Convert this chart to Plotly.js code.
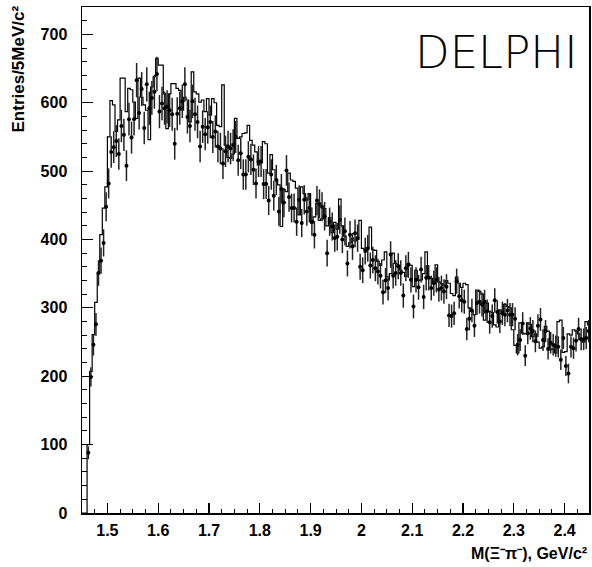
<!DOCTYPE html>
<html><head><meta charset="utf-8">
<script src="https://cdn.plot.ly/plotly-3.0.1.min.js"></script>
<style>html,body{margin:0;padding:0;background:#fff}#chart{width:592px;height:567px}</style>
</head><body><div id="chart"></div>
<script>
// Histogram binning: 5 MeV bins starting at 1.45 GeV
const binLow = 1.45;
const binWidth = 0.005;

// Data points (entries per bin), first two bins below threshold
const dataCounts = [null, null,
  88,199,246,276,351,369,395,448,482,528, 535,544,525,566,553,508,576,549,576,633,
  585,620,563,627,592,607,616,642,587,599, 592,594,589,583,540,584,592,602,627,579,
  566,602,583,572,536,565,554,564,
  572,550,558,536,533,511,529,536,533,538, 550,516,526,495,495,521,517,502,482,514,
  514,481,481,457,495,464,487,441,474,454, 501,462,446,446,426,458,424,458,441,446,
  426,407,457,452,448,434,380,426,419,402,
  404,429,400,412,365,407,390,409,402,360, 355,383,387,362,370,358,353,347,323,340,
  329,378,347,351,361,351,318,358,363,341, 302,341,330,356,316,344,344,329,336,341,
  327,329,324,331,289,288,292,339,317,311,
  309,269,284,296,274,307,309,305,309,295, 279,288,311,294,280,292,290,296,290,290,
  284,246,253,277,230,263,270,266,251,274, 283,253,266,240,249,246,244,243,224,256,
  215,204,243,241,252,269,254,254,256,266];

// Histogram (simulation) entries per bin
const histCounts = [0, 0,
  100,207,261,308,351,407,446,477,550,603, 597,558,575,636,636,587,621,619,601,577,
  636,608,597,589,546,623,638,665,655,655, 613,562,613,628,628,621,618,589,608,604,
  572,645,616,613,601,604,587,606,
  582,606,600,567,565,626,538,520,519,525, 577,548,550,555,556,567,545,538,528,509,
  512,543,540,497,524,502,487,480,419,473, 470,497,487,485,475,436,477,467,458,467,
  424,433,453,428,430,445,420,432,410,425,
  415,459,420,405,390,395,402,398,400,428, 387,385,388,418,385,384,368,362,370,382,
  341,350,380,365,362,355,352,346,365,362, 331,355,340,341,350,382,345,343,336,363,
  338,335,333,340,336,321,318,345,336,330,
  336,334,300,295,290,326,324,320,282,307, 295,293,275,272,297,295,305,302,300,268,
  245,234,278,263,262,278,276,258,262,250, 241,243,273,266,239,240,234,280,282,235,
  236,262,260,268,266,262,255,250,280,275];

const xTickVals = [1.5,1.6,1.7,1.8,1.9,2.0,2.1,2.2,2.3,2.4];
const xTickText = ['1.5','1.6','1.7','1.8','1.9','2','2.1','2.2','2.3','2.4'];
const yTickVals = [0,100,200,300,400,500,600,700];
const yTickText = ['0','100','200','300','400','500','600','700'];

const centers = dataCounts.map((_, i) => binLow + binWidth * (i + 0.5));
const edgesX = histCounts.map((_, i) => binLow + binWidth * i);
edgesX.push(binLow + binWidth * histCounts.length);
const edgesY = histCounts.slice();
edgesY.push(histCounts[histCounts.length - 1]);

const histTrace = {
  x: edgesX, y: edgesY, type: 'scatter', mode: 'lines',
  line: {shape: 'hv', color: '#000', width: 1.2},
  hoverinfo: 'skip', showlegend: false
};
const dataTrace = {
  x: centers, y: dataCounts, type: 'scatter', mode: 'markers',
  marker: {color: '#000', size: 4},
  error_y: {type: 'sqrt', visible: true, color: '#222', thickness: 1.5, width: 0},
  showlegend: false
};

const tickFont = {family: 'Liberation Sans, Arial, sans-serif', size: 16, color: '#000', weight: 'bold'};

const layout = {
  width: 592, height: 567,
  margin: {l: 82, r: 3, t: 7, b: 54},
  paper_bgcolor: '#fff', plot_bgcolor: '#fff',
  showlegend: false,
  xaxis: {
    range: [1.45, 2.448], showgrid: false, zeroline: false,
    showline: true, mirror: true, linecolor: '#000', linewidth: 1.5,
    ticks: 'inside', ticklen: 10, tickwidth: 1.2, tickcolor: '#000',
    tickvals: xTickVals, ticktext: xTickText, tickfont: tickFont,
    ticklabelstandoff: 2,
    minor: {dtick: 0.025, tick0: 1.45, ticks: 'inside', ticklen: 4, tickwidth: 1, tickcolor: '#000'}
  },
  yaxis: {
    range: [0, 740], showgrid: false, zeroline: false,
    showline: true, mirror: true, linecolor: '#000', linewidth: 1.5,
    ticks: 'inside', ticklen: 11, tickwidth: 1.2, tickcolor: '#000',
    tickvals: yTickVals, ticktext: yTickText, tickfont: tickFont,
    ticklabelstandoff: 10,
    minor: {dtick: 20, tick0: 0, ticks: 'inside', ticklen: 5, tickwidth: 1, tickcolor: '#000'}
  },
  annotations: [
    {text: 'DELPHI', xref: 'paper', yref: 'paper', x: (496 - 82) / 507, y: (513 - 52) / 506,
     xanchor: 'center', yanchor: 'middle', showarrow: false,
     font: {family: 'DejaVu Sans ExtraLight, DejaVu Sans, sans-serif', size: 45, color: '#000', weight: 200}},
    {text: 'Entries/5MeV/c²', xref: 'paper', yref: 'paper', x: (18 - 82) / 507, y: (513 - 4) / 506,
     xanchor: 'center', yanchor: 'top', textangle: -90, showarrow: false,
     font: {family: 'Liberation Sans, Arial, sans-serif', size: 17, color: '#000', weight: 'bold'}},
    {text: 'M(Ξ⁻π⁻), GeV/c²', xref: 'paper', yref: 'paper', x: (589 - 82) / 507, y: (513 - 553) / 506,
     xanchor: 'right', yanchor: 'middle', showarrow: false,
     font: {family: 'Liberation Sans, Arial, sans-serif', size: 16, color: '#000', weight: 'bold'}}
  ]
};

Plotly.newPlot('chart', [histTrace, dataTrace], layout, {displayModeBar: false, staticPlot: true});
</script>
</body></html>
